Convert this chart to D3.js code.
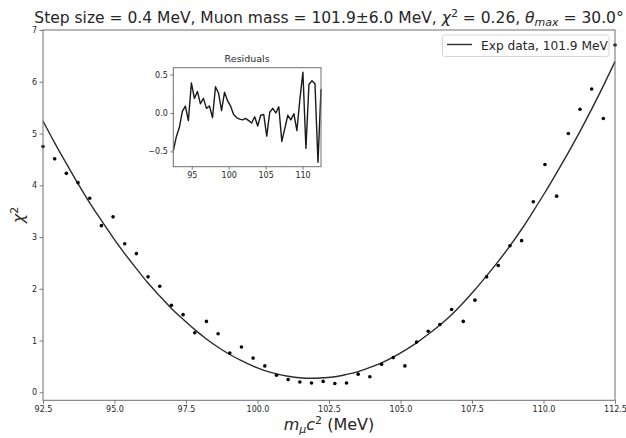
<!DOCTYPE html>
<html>
<head>
<meta charset="utf-8">
<script src="https://cdn.jsdelivr.net/npm/d3@7"></script>
<style>
  html, body { margin: 0; padding: 0; background: #fff; }
  svg { display: block; font-family: "DejaVu Sans", sans-serif; }
</style>
</head>
<body>
<svg id="chart" width="626" height="438"></svg>
<script>
// ---- data ----
const massValues = [92.5, 92.908, 93.316, 93.724, 94.133, 94.541, 94.949, 95.357, 95.765, 96.173,
  96.582, 96.990, 97.398, 97.806, 98.214, 98.622, 99.031, 99.439, 99.847, 100.255,
  100.663, 101.071, 101.480, 101.888, 102.296, 102.704, 103.112, 103.520, 103.929, 104.337,
  104.745, 105.153, 105.561, 105.969, 106.378, 106.786, 107.194, 107.602, 108.010, 108.418,
  108.827, 109.235, 109.643, 110.051, 110.459, 110.867, 111.276, 111.684, 112.092, 112.5];
const chi2Points = [4.75, 4.51, 4.23, 4.05, 3.75, 3.22, 3.39, 2.87, 2.68, 2.23,
  2.05, 1.68, 1.50, 1.15, 1.37, 1.13, 0.76, 0.875, 0.66, 0.51,
  0.33, 0.245, 0.20, 0.18, 0.21, 0.17, 0.18, 0.35, 0.30, 0.54,
  0.67, 0.51, 0.97, 1.18, 1.31, 1.60, 1.37, 1.78, 2.23, 2.45,
  2.83, 2.93, 3.68, 4.40, 3.79, 5.00, 5.47, 5.86, 5.29, 6.71];
const chi2Fit = [5.24, 4.82, 4.42, 4.03, 3.66, 3.32, 2.99, 2.68, 2.39, 2.11,
  1.86, 1.62, 1.41, 1.21, 1.03, 0.87, 0.73, 0.61, 0.505, 0.42,
  0.355, 0.31, 0.28, 0.27, 0.28, 0.30, 0.345, 0.40, 0.48, 0.57,
  0.68, 0.81, 0.955, 1.12, 1.30, 1.50, 1.73, 1.98, 2.25, 2.53,
  2.83, 3.15, 3.50, 3.86, 4.24, 4.63, 5.04, 5.47, 5.92, 6.39];
const residuals = [-0.49, -0.31, -0.19, 0.02, 0.09, -0.10, 0.39, 0.19, 0.28, 0.12,
  0.19, 0.06, 0.09, -0.06, 0.34, 0.26, 0.03, 0.27, 0.16, 0.09,
  -0.02, -0.06, -0.08, -0.09, -0.07, -0.10, -0.13, -0.05, -0.17, -0.03,
  -0.02, -0.30, 0.01, 0.06, 0.00, 0.08, -0.37, -0.20, -0.03, -0.09,
  -0.01, -0.23, 0.18, 0.53, -0.46, 0.37, 0.42, 0.38, -0.64, 0.31];
const xTicks = [92.5, 95.0, 97.5, 100.0, 102.5, 105.0, 107.5, 110.0, 112.5];
const yTicks = [0, 1, 2, 3, 4, 5, 6, 7];
const insetXTicks = [95, 100, 105, 110];
const insetYTicks = [-0.5, 0.0, 0.5];
const legendLabel = "Exp data, 101.9 MeV";

// ---- layout ----
const svg = d3.select("#chart");
svg.append("rect").attr("width", 626).attr("height", 438).attr("fill", "#fff");

const P = { left: 43, right: 615, top: 30, bottom: 400.3 };
const x = d3.scaleLinear().domain([92.5, 112.5]).range([P.left, P.right]);
const y = d3.scaleLinear().domain([-0.155, 7]).range([P.bottom, P.top]);

const textColor = "#262626";
const spineColor = "#6e6e6e";

// main curve
const line = d3.line().x((d, i) => x(massValues[i])).y(d => y(d)).curve(d3.curveMonotoneX);
svg.append("path").datum(chi2Fit)
  .attr("d", line).attr("fill", "none").attr("stroke", "#2b2b2b").attr("stroke-width", 1.4);

// points
svg.append("g").selectAll("circle").data(chi2Points).join("circle")
  .attr("cx", (d, i) => x(massValues[i])).attr("cy", d => y(d))
  .attr("r", 1.8).attr("fill", "#000");

// axes
function styleAxis(g, fs) {
  g.select(".domain").remove();
  g.selectAll(".tick line").attr("stroke", spineColor).attr("stroke-width", 0.9);
  g.selectAll(".tick text").attr("fill", textColor).attr("font-size", fs)
    .attr("font-family", "DejaVu Sans");
}
const xAxis = svg.append("g").attr("transform", `translate(0,${P.bottom})`)
  .call(d3.axisBottom(x).tickValues(xTicks).tickFormat(d3.format(".1f")).tickSize(3.5).tickPadding(2.5));
styleAxis(xAxis, 8);
const yAxis = svg.append("g").attr("transform", `translate(${P.left},0)`)
  .call(d3.axisLeft(y).tickValues(yTicks).tickFormat(d3.format("d")).tickSize(3.5).tickPadding(2.5));
styleAxis(yAxis, 8);

// spines
svg.append("rect").attr("x", P.left).attr("y", P.top)
  .attr("width", P.right - P.left).attr("height", P.bottom - P.top)
  .attr("fill", "none").attr("stroke", spineColor).attr("stroke-width", 1);

// title
const title = svg.append("text").attr("x", (P.left + P.right) / 2).attr("y", 23)
  .attr("text-anchor", "middle").attr("font-size", 15.5).attr("fill", textColor);
title.append("tspan").text("Step size = 0.4 MeV, Muon mass = 101.9±6.0 MeV, ");
title.append("tspan").attr("font-style", "italic").text("χ");
title.append("tspan").attr("font-size", 11).attr("dy", -6).text("2");
title.append("tspan").attr("dy", 6).text(" = 0.26, ");
title.append("tspan").attr("font-style", "italic").text("θ");
title.append("tspan").attr("font-style", "italic").attr("font-size", 11).attr("dy", 3).text("max");
title.append("tspan").attr("dy", -3).text(" = 30.0°");

// x label
const xl = svg.append("text").attr("x", (P.left + P.right) / 2).attr("y", 430)
  .attr("text-anchor", "middle").attr("font-size", 16).attr("fill", textColor);
xl.append("tspan").attr("font-style", "italic").text("m");
xl.append("tspan").attr("font-style", "italic").attr("font-size", 11).attr("dy", 3).text("μ");
xl.append("tspan").attr("font-style", "italic").attr("dy", -3).text("c");
xl.append("tspan").attr("font-size", 11).attr("dy", -6).text("2");
xl.append("tspan").attr("dy", 6).text(" (MeV)");

// y label
const yl = svg.append("text").attr("transform", "translate(24,215) rotate(-90)")
  .attr("text-anchor", "middle").attr("font-size", 16).attr("fill", textColor);
yl.append("tspan").attr("font-style", "italic").text("χ");
yl.append("tspan").attr("font-size", 11).attr("dy", -6).text("2");

// legend
const lg = svg.append("g");
lg.append("rect").attr("x", 442.5).attr("y", 35).attr("width", 166.5).attr("height", 21.5)
  .attr("rx", 2.5).attr("fill", "#fff").attr("fill-opacity", 0.8)
  .attr("stroke", "#d6d6d6").attr("stroke-width", 1);
lg.append("line").attr("x1", 447).attr("x2", 472).attr("y1", 44.5).attr("y2", 44.5)
  .attr("stroke", "#2b2b2b").attr("stroke-width", 1.4);
lg.append("text").attr("x", 481).attr("y", 49.5).attr("font-size", 12.2)
  .attr("fill", textColor).text(legendLabel);

// ---- inset: residuals ----
const I = { left: 173.3, right: 321, top: 67.7, bottom: 166.7 };
const xi = d3.scaleLinear().domain([92.5, 112.5]).range([I.left, I.right]);
const yi = d3.scaleLinear().domain([-0.6985, 0.5885]).range([I.bottom, I.top]);

svg.append("rect").attr("x", I.left).attr("y", I.top)
  .attr("width", I.right - I.left).attr("height", I.bottom - I.top).attr("fill", "#fff");
const rline = d3.line().x((d, i) => xi(massValues[i])).y(d => yi(d));
svg.append("path").datum(residuals).attr("d", rline)
  .attr("fill", "none").attr("stroke", "#1a1a1a").attr("stroke-width", 1.4)
  .attr("stroke-linejoin", "round");

const ixAxis = svg.append("g").attr("transform", `translate(0,${I.bottom})`)
  .call(d3.axisBottom(xi).tickValues(insetXTicks).tickFormat(d3.format("d")).tickSize(3).tickPadding(2.5));
styleAxis(ixAxis, 8);
const iyAxis = svg.append("g").attr("transform", `translate(${I.left},0)`)
  .call(d3.axisLeft(yi).tickValues(insetYTicks).tickFormat(d => d3.format(".1f")(d).replace("-", "−")).tickSize(3).tickPadding(2.5));
styleAxis(iyAxis, 8);

svg.append("rect").attr("x", I.left).attr("y", I.top)
  .attr("width", I.right - I.left).attr("height", I.bottom - I.top)
  .attr("fill", "none").attr("stroke", spineColor).attr("stroke-width", 1);
svg.append("text").attr("x", (I.left + I.right) / 2).attr("y", 62)
  .attr("text-anchor", "middle").attr("font-size", 9.5).attr("fill", textColor).text("Residuals");
</script>
</body>
</html>
